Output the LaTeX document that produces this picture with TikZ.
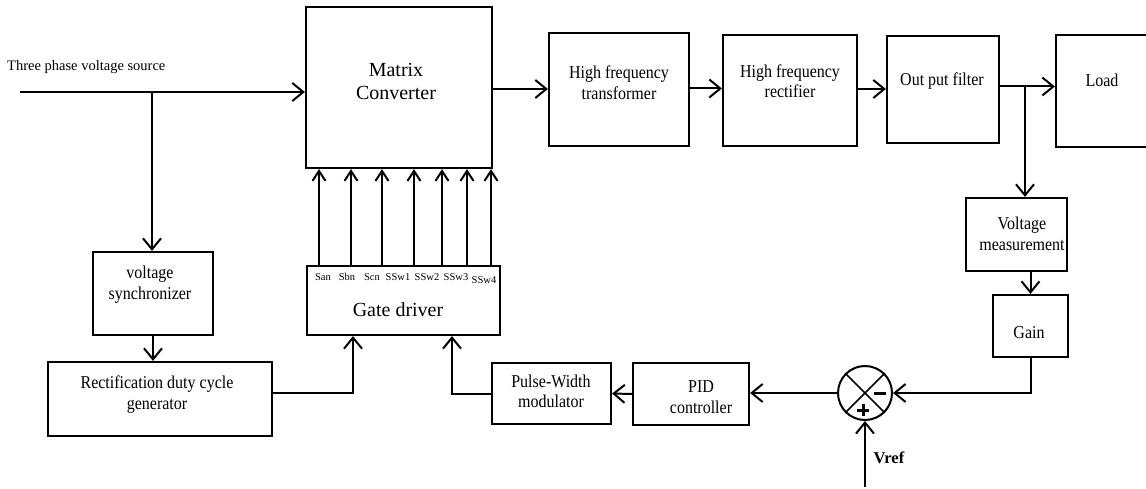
\documentclass[tikz,border=0pt]{standalone}
\usepackage{fontspec}
\setmainfont{Liberation Serif}
\usetikzlibrary{arrows.meta,calc}
\newcommand{\bxt}[1]{\scalebox{1}[1.13]{\begin{tabular}{@{}c@{}}#1\end{tabular}}}
\begin{document}
\begin{tikzpicture}[x=1pt,y=-1pt,
 box/.style={draw, line width=2.2pt, inner sep=0pt},
 txt/.style={align=center, inner sep=0pt, yshift=-2pt, font=\fontsize{16}{18}\selectfont},
 big/.style={align=center, inner sep=0pt, font=\fontsize{20}{23}\selectfont},
 sig/.style={inner sep=0pt, font=\fontsize{10.5}{12}\selectfont},
 conn/.style={line width=2pt},
 arr/.style={conn, -{Straight Barb[length=11pt,width=18pt,line width=2pt]}},
 garr/.style={conn, -{Straight Barb[length=10pt,width=13pt,line width=2pt]}},
 sgn/.style={line width=3pt}
]
\useasboundingbox (0,0) rectangle (1146,489);

% boxes
\node[box, minimum width=186pt, minimum height=161pt] (mc) at (399,87.5) {};
\node[big] (mct) at (396,81.5) {Matrix\\Converter};

\node[box, minimum width=140pt, minimum height=113pt] (hft) at (619,89.5) {};
\node[txt] (hftt) at (619,83) {\bxt{High frequency\\transformer}};

\node[box, minimum width=134pt, minimum height=111pt] (hfr) at (790,90.5) {};
\node[txt] (hfrt) at (790,81.5) {\bxt{High frequency\\rectifier}};

\node[box, minimum width=112pt, minimum height=107pt] (opf) at (943,89.5) {};
\node[txt] (opft) at (942,79) {\bxt{Out put filter}};

\node[box, minimum width=94pt, minimum height=112pt] (load) at (1103,91) {};
\node[txt] (loadt) at (1102,80) {\bxt{Load}};

\node[box, minimum width=101pt, minimum height=73pt] (vm) at (1016.5,234.5) {};
\node[txt] (vmt) at (1022,234) {\bxt{Voltage\\measurement}};

\node[box, minimum width=75pt, minimum height=62pt] (gain) at (1030.5,326) {};
\node[txt] (gaint) at (1029,332) {\bxt{Gain}};

\node[draw, circle, line width=2pt, minimum size=54pt, inner sep=0pt] (sum) at (865,393) {};
\draw[line width=1.5pt] (sum.north west) -- (sum.south east);
\draw[line width=1.5pt] (sum.north east) -- (sum.south west);
\draw[sgn] ($(sum.center)+(9,0)$) -- ($(sum.center)+(21,0)$);
\draw[sgn] ($(sum.center)+(-8,17)$) -- ($(sum.center)+(4,17)$);
\draw[sgn] ($(sum.center)+(-2,11)$) -- ($(sum.center)+(-2,23)$);

\node[box, minimum width=116pt, minimum height=62pt] (pid) at (691,394) {};
\node[txt] (pidt) at (701,397) {\bxt{PID\\controller}};

\node[box, minimum width=119pt, minimum height=61pt] (pwm) at (551.5,393.5) {};
\node[txt] (pwmt) at (551,391.5) {\bxt{Pulse-Width\\modulator}};

\node[box, minimum width=193pt, minimum height=69pt] (gd) at (403.5,300.5) {};
\node[big] (gdt) at (398,310) {Gate driver};
\node[sig] (l1) at (323,277) {San};
\node[sig] (l2) at (347,277) {Sbn};
\node[sig] (l3) at (372,277) {Scn};
\node[sig] (l4) at (398,277) {SSw1};
\node[sig] (l5) at (427,277) {SSw2};
\node[sig] (l6) at (456,277) {SSw3};
\node[sig] (l7) at (484,280) {SSw4};

\node[box, minimum width=120pt, minimum height=83pt] (vs) at (153,293.5) {};
\node[txt] (vst) at (150,283) {\bxt{voltage\\synchronizer}};

\node[box, minimum width=224pt, minimum height=74pt] (rdcg) at (160,399) {};
\node[txt] (rdcgt) at (157,393) {\bxt{Rectification duty cycle\\generator}};

\node[font=\fontsize{14.5}{16}\selectfont, anchor=west, inner sep=0pt] (srct) at (7,67) {Three phase voltage source};
\node[font=\bfseries\fontsize{16.5}{18}\selectfont, inner sep=0pt] (vreft) at (889,458) {Vref};

% coordinates
\coordinate (src) at (20,92);
\coordinate (br1) at (152,92);
\coordinate (br2) at (1025,86);
\coordinate (vref) at (865,487);

% connectors
\draw[arr] (src) -- (src -| mc.west);
\draw[arr] (br1) -- (br1 |- vs.north);
\draw[arr] (vs.south) -- (vs.south |- rdcg.north);
\draw[arr] ([yshift=6pt]rdcg.east) -| ([xshift=-50.5pt]gd.south);
\draw[arr] (pwm.west) -| ([xshift=48.5pt]gd.south);
\draw[arr] (pid.west) -- (pwm.east);
\draw[arr] (sum.west) -- (sum.west -| pid.east);
\draw[arr] (gain.south) |- (sum.east);
\draw[arr] (vref) -- (sum.south);
\draw[arr] (gain.north |- vm.south) -- (gain.north);
\draw[arr] (br2) -- (br2 |- vm.north);
\draw[arr] ([yshift=3pt]opf.east) -- ([yshift=3pt]opf.east -| load.west);
\draw[arr] ([yshift=1.5pt]hfr.east) -- ([yshift=1.5pt]hfr.east -| opf.west);
\draw[arr] ([yshift=1pt]hft.east) -- ([yshift=1pt]hft.east -| hfr.west);
\draw[arr] ([yshift=-1.5pt]mc.east) -- ([yshift=-1.5pt]mc.east -| hft.west);
\foreach \x in {319,351,382,414,442,467,491}
  \draw[garr] (gd.north -| \x,0) -- (mc.south -| \x,0);
\end{tikzpicture}
\end{document}
